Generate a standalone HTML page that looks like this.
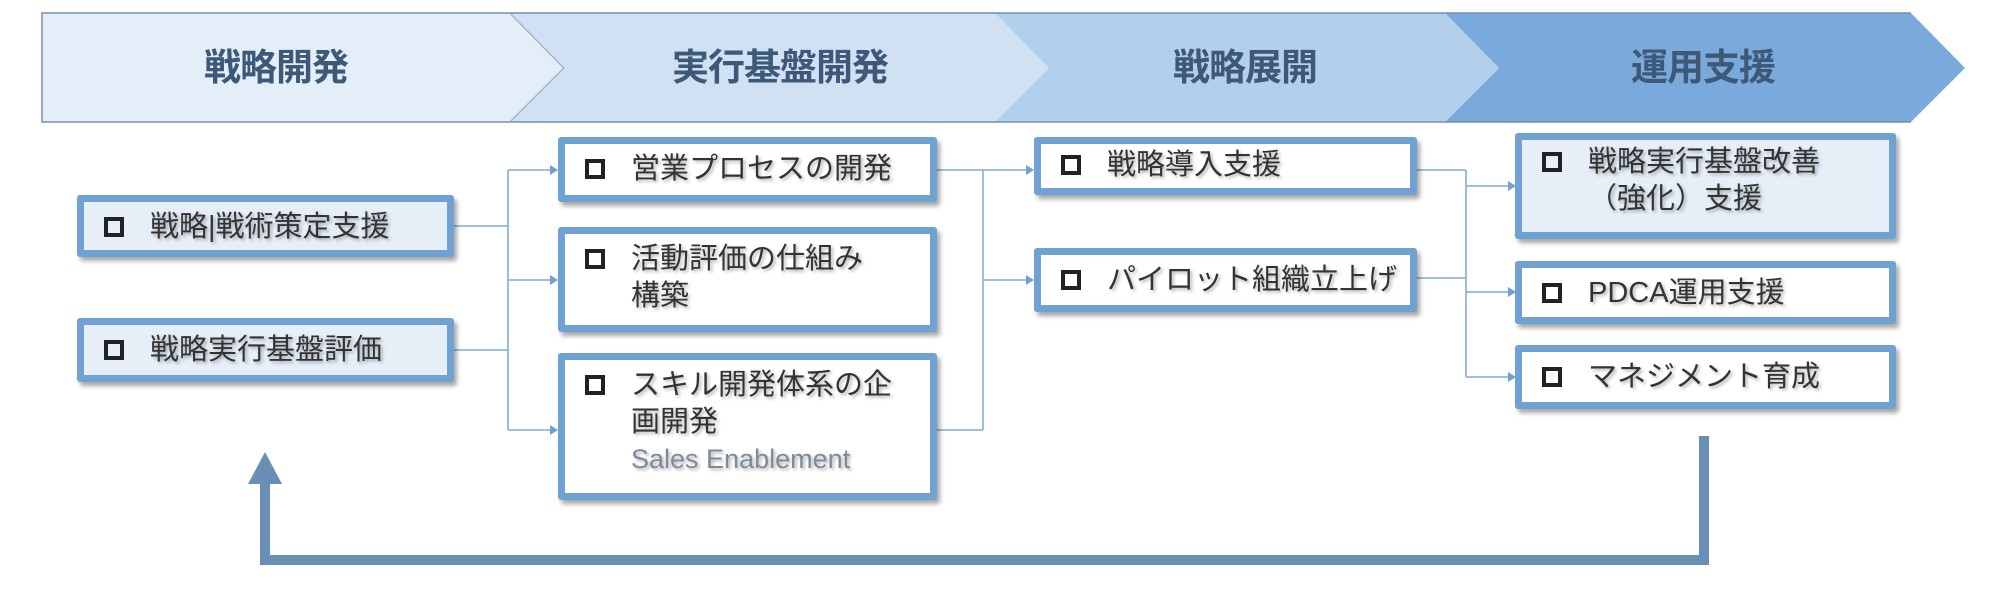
<!DOCTYPE html>
<html><head><meta charset="utf-8">
<style>
body{margin:0;width:2000px;height:592px;background:#fff;position:relative;overflow:hidden;font-family:"Liberation Sans","Noto Sans CJK JP",sans-serif;}
.hd{position:absolute;top:46px;font-size:37px;font-weight:bold;color:#3e5878;text-align:center;line-height:44px;letter-spacing:-1px;}
.bx{position:absolute;box-sizing:border-box;border:7px solid #6fa2d2;border-radius:3px;background:#fff;box-shadow:3px 4px 5px rgba(0,0,0,.35);font-size:29px;color:#333;line-height:37px;padding:7px 0 0 66px;text-shadow:2px 2px 3px rgba(0,0,0,.3);}
.bx.l{background:#e6eff8;}
.cb{position:absolute;left:20px;top:15px;width:12px;height:12px;border:4px solid #222;}
.se{color:#7e8c9a;font-size:27px;}
</style></head><body>
<svg width="2000" height="592" style="position:absolute;left:0;top:0">
<polygon points="42,13 510,13 564,68 510,122 42,122" fill="#e4eef9" stroke="#7590ad" stroke-width="1.5"/>
<polygon points="510,13 995,13 1049,68 995,122 510,122 564,68" fill="#cfe1f3" stroke="none"/>
<polygon points="995,13 1445,13 1499,68 1445,122 995,122 1049,68" fill="#b2cfeb"/>
<polygon points="1445,13 1911,13 1965,68 1911,122 1445,122 1499,68" fill="#79aadb"/>
<polyline points="510,13 1911,13" stroke="#7590ad" stroke-width="1.5" fill="none"/>
<polyline points="510,122 1911,122" stroke="#7590ad" stroke-width="1.5" fill="none"/>
<polyline points="510,13 564,68 510,122" stroke="#9fb6cf" stroke-width="1" fill="none"/>
<g stroke="#8fb6db" stroke-width="1.8" fill="none">
<polyline points="454,226 508,226"/><polyline points="454,350 508,350"/>
<polyline points="508,170 508,430"/>
<polyline points="508,170 552,170"/><polyline points="508,280 552,280"/><polyline points="508,430 552,430"/>
<polyline points="937,170 983,170"/><polyline points="937,430 983,430"/>
<polyline points="983,170 983,430"/>
<polyline points="983,170 1028,170"/><polyline points="983,280 1028,280"/>
<polyline points="1417,170 1466,170"/><polyline points="1417,278 1466,278"/>
<polyline points="1466,170 1466,377"/>
<polyline points="1466,186 1510,186"/><polyline points="1466,292 1510,292"/><polyline points="1466,377 1510,377"/>
</g>
<g fill="#6fa2d2">
<polygon points="550,165 558,170 550,175"/><polygon points="550,275 558,280 550,285"/><polygon points="550,425 558,430 550,435"/>
<polygon points="1026,165 1034,170 1026,175"/><polygon points="1026,275 1034,280 1026,285"/>
<polygon points="1508,181 1516,186 1508,191"/><polygon points="1508,287 1516,292 1508,297"/><polygon points="1508,372 1516,377 1508,382"/>
</g>
<polyline points="1704,436 1704,560 265,560 265,480" stroke="#6a8fb7" stroke-width="10" fill="none"/>
<polygon points="248,484 282,484 265,452" fill="#6a8fb7"/>
</svg>
<div class="hd" style="left:42px;width:468px">戦略開発</div>
<div class="hd" style="left:560px;width:440px">実行基盤開発</div>
<div class="hd" style="left:1045px;width:400px">戦略展開</div>
<div class="hd" style="left:1495px;width:416px">運用支援</div>

<div class="bx l" style="left:77px;top:195px;width:377px;height:62px"><span class="cb"></span>戦略|戦術策定支援</div>
<div class="bx l" style="left:77px;top:318px;width:377px;height:64px"><span class="cb"></span>戦略実行基盤評価</div>

<div class="bx" style="left:558px;top:137px;width:379px;height:65px"><span class="cb"></span>営業プロセスの開発</div>
<div class="bx" style="left:558px;top:227px;width:379px;height:105px"><span class="cb"></span>活動評価の仕組み<br>構築</div>
<div class="bx" style="left:558px;top:353px;width:379px;height:147px"><span class="cb"></span>スキル開発体系の企<br>画開発<br><span class="se">Sales Enablement</span></div>

<div class="bx" style="left:1034px;top:137px;width:383px;height:58px;padding-top:3px"><span class="cb" style="top:11px"></span>戦略導入支援</div>
<div class="bx" style="left:1034px;top:248px;width:383px;height:64px"><span class="cb"></span>パイロット組織立上げ</div>

<div class="bx l" style="left:1515px;top:133px;width:381px;height:106px;padding-top:4px"><span class="cb" style="top:12px"></span>戦略実行基盤改善<br>（強化）支援</div>
<div class="bx" style="left:1515px;top:261px;width:381px;height:63px"><span class="cb"></span>PDCA運用支援</div>
<div class="bx" style="left:1515px;top:345px;width:381px;height:64px"><span class="cb"></span>マネジメント育成</div>
</body></html>
